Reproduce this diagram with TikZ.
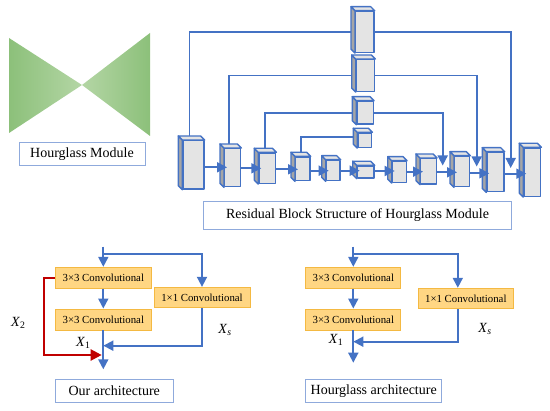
\documentclass[tikz,border=0pt]{standalone}
\usepackage{fontspec}
\setmainfont{Liberation Serif}
\usepackage{xcolor}
\usepackage{tikz}
\usetikzlibrary{arrows.meta,backgrounds}

\definecolor{hgblue}{HTML}{4472C4}
\definecolor{lblblue}{HTML}{8FAADC}
\definecolor{facegray}{HTML}{E4E4E4}
\definecolor{sidegray}{HTML}{A6A6A6}
\definecolor{convfill}{HTML}{FFD683}
\definecolor{convdraw}{HTML}{F4B942}
\definecolor{skipred}{HTML}{C00000}
\definecolor{hgdark}{HTML}{8CC07A}
\definecolor{hglight}{HTML}{B4D6A5}

% 3-D block: name, x0, y0, x1, y1 (outer extents, pixel units)
\newcommand{\cube}[5]{%
  \node[face, anchor=north west, minimum width={(#4-#2-4)*1pt}, minimum height={(#5-#3-4)*1pt}] (#1) at ({#2+4},{#3+4}) {};
  \draw[face, fill=sidegray] (#1.south west) -- (#1.north west) -- ++(-4,-4) -- ([shift={(-4,-4)}]#1.south west) -- cycle;
  \draw[face] (#1.north west) -- ++(-4,-4) -- ([shift={(-4,-4)}]#1.north east) -- (#1.north east) -- cycle;
}

\begin{document}
\begin{tikzpicture}[
  x=1pt, y=-1pt,
  face/.style={draw=hgblue, fill=facegray, line width=1.4pt, line join=round, inner sep=0pt},
  line/.style={draw=hgblue, line width=1.8pt},
  arr/.style={line, -{Triangle[length=10pt,width=10pt]}},
  mainarr/.style={arr, shorten >=-3pt},
  lbl/.style={draw=lblblue, line width=1pt, inner sep=0pt, font=\fontsize{14}{16}\selectfont},
  conv/.style={draw=convdraw, fill=convfill, line width=0.9pt, inner sep=0pt, font=\fontsize{10.8}{12}\selectfont},
  redarr/.style={draw=skipred, line width=2.2pt, -{Triangle[length=11pt,width=11pt]}},
  xlab/.style={font=\fontsize{14}{16}\selectfont}
]
  \useasboundingbox (0,0) rectangle (550,411);

  % hourglass icon
  \shade[left color=hgdark, right color=hglight] (9,38) -- (82,85) -- (9,133) -- cycle;
  \shade[left color=hglight, right color=hgdark] (150,33) -- (82,85) -- (150,136) -- cycle;
  \node[lbl, minimum width=126pt, minimum height=23pt] (hgm) at (82,154.5) {Hourglass Module};

  % residual blocks
  \cube{b1}{178.3}{136}{203.3}{188.3}
  \cube{b2}{220}{144}{240}{186}
  \cube{b3}{254.3}{148.3}{275}{182.7}
  \cube{b4}{291}{152.3}{309.3}{180}
  \cube{b5}{321.7}{155.7}{339.3}{180}
  \cube{b6}{352.7}{161.3}{373.3}{177.3}
  \cube{b7}{387.7}{156.7}{405.7}{181.7}
  \cube{b8}{416}{154}{435.7}{183.3}
  \cube{b9}{450}{151.7}{469}{186}
  \cube{b10}{482.3}{147.7}{503.3}{191}
  \cube{b11}{519.3}{143.3}{540}{195.7}
  \cube{u1}{351}{6.7}{373.3}{51.7}
  \cube{u2}{351.7}{55}{374}{90.7}
  \cube{u3}{352.3}{96.7}{372.7}{123.3}
  \cube{u4}{353.3}{128.3}{371}{146.7}

  \coordinate (t1) at (510.7,168);
  \coordinate (t2) at (476.7,166.5);
  \coordinate (t3) at (442.7,165.5);

  \begin{scope}[on background layer]
    \draw[line] ([xshift=-4pt]b1.north) |- (u1.west);
    \draw[line] ([xshift=-4pt]b2.north) |- (u2.west);
    \draw[line] ([xshift=-2pt]b3.north) |- (u3.west);
    \draw[line] ([xshift=-2pt]b4.north) |- ([yshift=3pt]u4.west);
  \end{scope}
  \draw[arr] (u1.east) -| (t1);
  \draw[arr] (u2.east) -| (t2);
  \draw[arr] (u3.east) -| (t3);

  \foreach \a/\b/\y in {b1/b2/167.3, b2/b3/168.3, b3/b4/169.3, b4/b5/170.7, b5/b6/170.7,
                        b6/b7/171, b7/b8/171.7, b8/b9/172.3, b9/b10/173.3, b10/b11/173.7}
    \draw[mainarr] (\a.east |- 0,\y) -- (\b.west |- 0,\y);

  \node[lbl, minimum width=308pt, minimum height=27.6pt] (rbs) at (357.5,215.5) {Residual Block Structure of Hourglass Module};

  % our architecture
  \coordinate (inL) at (103.3,246.7);
  \coordinate (jL) at (103.3,254.3);
  \coordinate (sL) at (103.3,345.7);
  \coordinate (rL) at (101.7,355);
  \coordinate (outL) at (103.3,369.3);
  \node[conv, minimum width=96pt, minimum height=21pt] (c1L) at (103.3,277.8) {3×3 Convolutional};
  \node[conv, minimum width=96pt, minimum height=21pt] (c2L) at (103.3,319.5) {3×3 Convolutional};
  \node[conv, minimum width=96pt, minimum height=20.4pt] (k1L) at (202,297.5) {1×1 Convolutional};
  \draw[arr] (inL) -- (c1L);
  \draw[arr] (jL) -| (k1L);
  \draw[arr] (c1L) -- (c2L);
  \draw[arr] (c2L) -- (outL);
  \draw[arr] (k1L) |- (sL);
  \draw[redarr] (c1L.west) -- ++(-11,0) |- (rL);
  \node[xlab] (x2L) at (18.3,323.3) {\textit{X}\textsubscript{2}};
  \node[xlab] (x1L) at (83.3,342.7) {\textit{X}\textsubscript{1}};
  \node[xlab] (xsL) at (225,330) {\textit{X}\textsubscript{\textit{s}}};
  \node[lbl, minimum width=118pt, minimum height=23.3pt] (ours) at (114.2,390.7) {Our architecture};

  % hourglass architecture
  \coordinate (inR) at (353.3,246.7);
  \coordinate (jR) at (353.3,254.3);
  \coordinate (sR) at (353.3,341.7);
  \coordinate (outR) at (353.3,362.7);
  \node[conv, minimum width=95pt, minimum height=21pt] (c1R) at (353.3,277.8) {3×3 Convolutional};
  \node[conv, minimum width=95pt, minimum height=21pt] (c2R) at (353.3,319.5) {3×3 Convolutional};
  \node[conv, minimum width=95pt, minimum height=20.7pt] (k1R) at (465.8,298.6) {1×1 Convolutional};
  \draw[arr] (inR) -- (c1R);
  \draw[arr] (jR) -| ([xshift=-8pt]k1R.north);
  \draw[arr] (c1R) -- (c2R);
  \draw[arr] (c2R) -- (outR);
  \draw[arr] ([xshift=-8pt]k1R.south) |- (sR);
  \node[xlab] (x1R) at (336,340) {\textit{X}\textsubscript{1}};
  \node[xlab] (xsR) at (485,329) {\textit{X}\textsubscript{\textit{s}}};
  \node[lbl, minimum width=136pt, minimum height=23.3pt] (hga) at (373.7,390.7) {Hourglass architecture};
\end{tikzpicture}
\end{document}
